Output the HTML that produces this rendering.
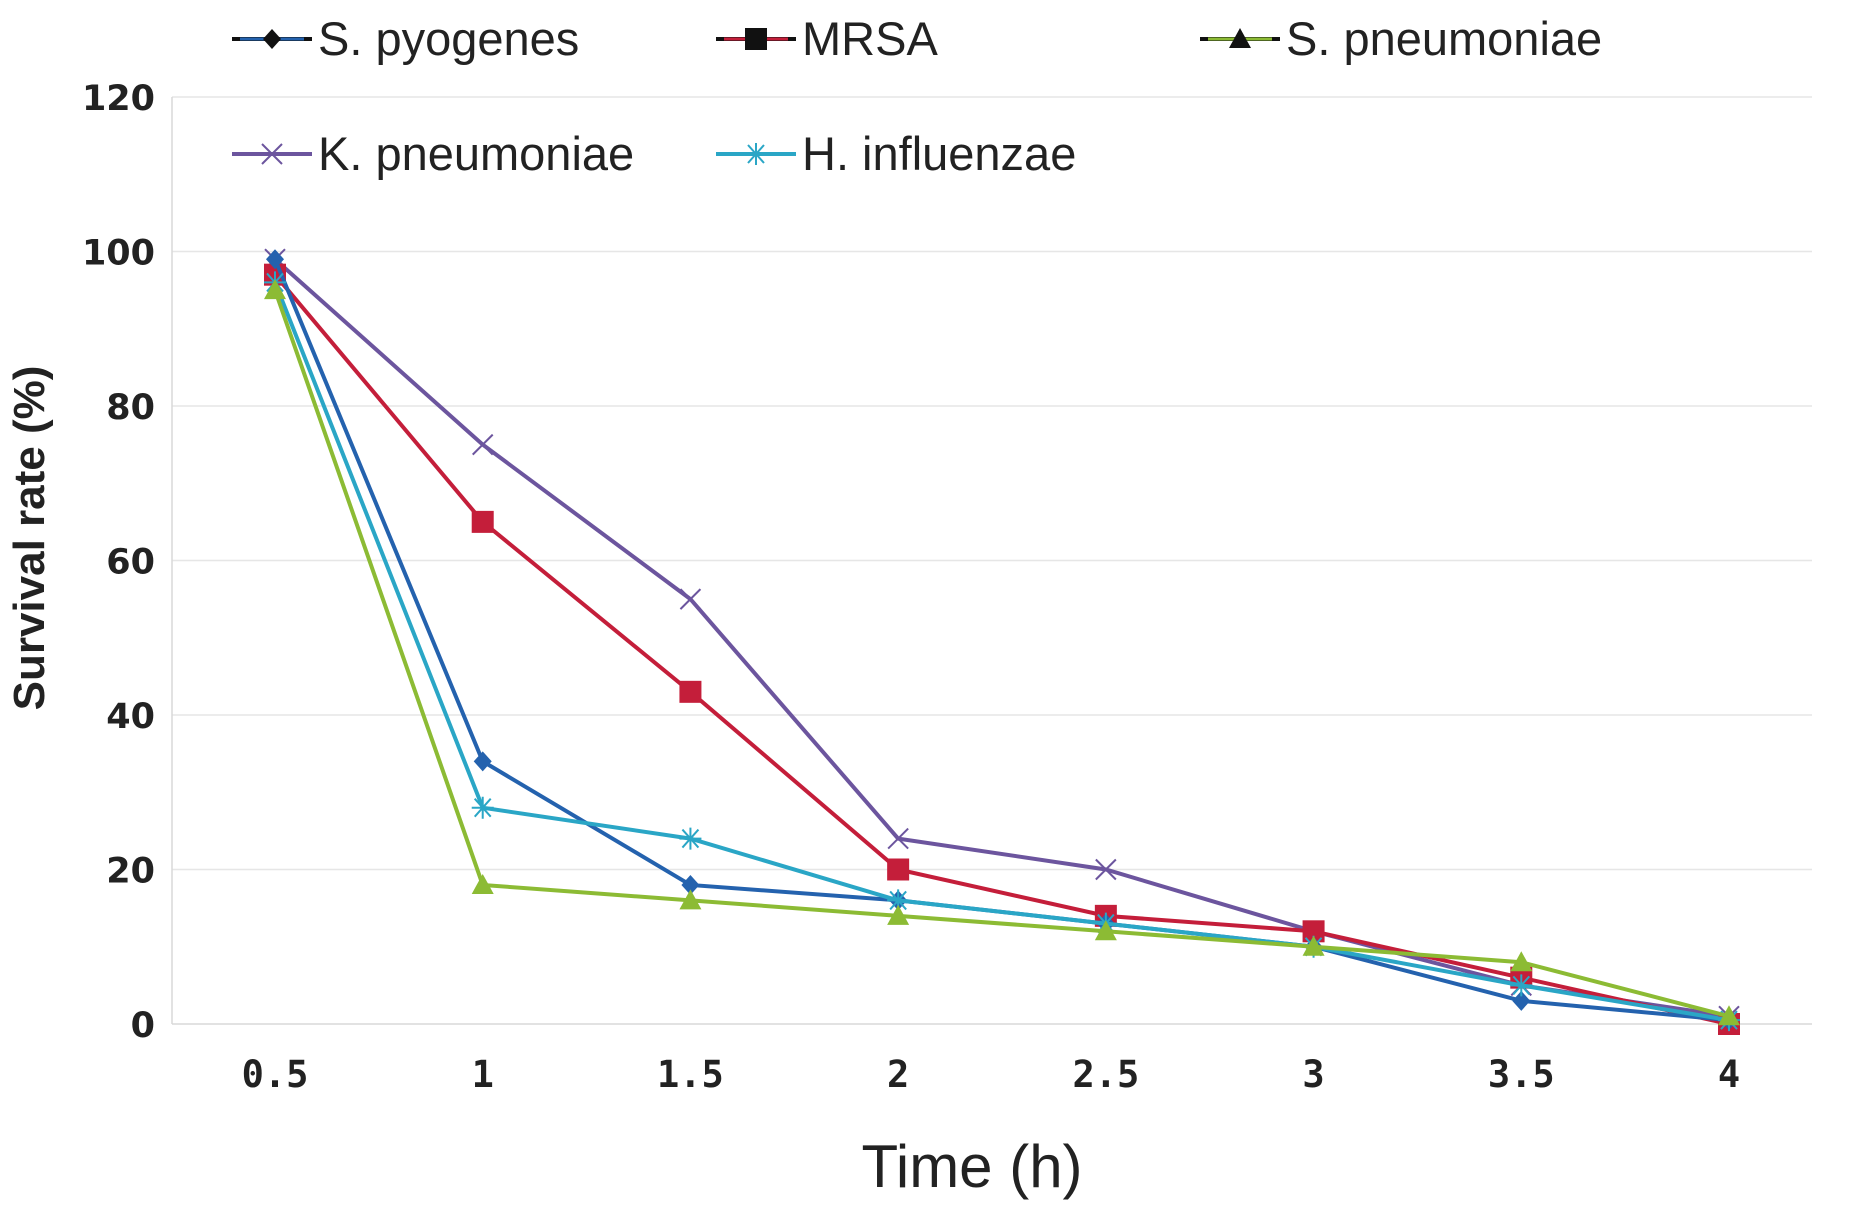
<!DOCTYPE html>
<html><head><meta charset="utf-8"><style>
body{margin:0;background:#fff;}
svg{display:block;}
</style></head><body>
<svg id="chart" width="1853" height="1206" xmlns="http://www.w3.org/2000/svg">
<g id="grid"></g><g id="axes"></g><g id="series"></g><g id="legend"></g>
<text x="972" y="1187" text-anchor="middle" font-family="Liberation Sans, sans-serif" font-size="60" fill="#222">Time (h)</text>
<text transform="translate(44,538) rotate(-90)" text-anchor="middle" font-family="Liberation Sans, sans-serif" font-weight="bold" font-size="44" fill="#222">Survival rate (%)</text>
</svg>
<script>
const categories=["0.5","1","1.5","2","2.5","3","3.5","4"];
const yTicks=[0,20,40,60,80,100,120];
const seriesNames=["S. pyogenes","MRSA","S. pneumoniae","K. pneumoniae","H. influenzae"];
const pyogenes=[99,34,18,16,13,10,3,0.5];
const mrsa=[97,65,43,20,14,12,6,0];
const pneumoniae=[95,18,16,14,12,10,8,1];
const kpneumoniae=[99,75,55,24,20,12,5,1];
const hinfluenzae=[96,28,24,16,13,10,5,0.5];
const colors=["#2462ae","#c41e3a","#8cbb34","#6c559e","#2aa6c6"];
const markers=["diamond","square","triangle","x","star"];
const NS="http://www.w3.org/2000/svg";
const X0=275,XS=(1729-275)/7,Y0=1024,YT=97;
const xs=i=>X0+i*XS, ys=v=>Y0-(v/120)*(Y0-YT);
function mk(t,a,p){const e=document.createElementNS(NS,t);for(const k in a)e.setAttribute(k,a[k]);p.appendChild(e);return e;}
const grid=document.getElementById('grid'),axes=document.getElementById('axes'),ser=document.getElementById('series'),leg=document.getElementById('legend');
yTicks.forEach(t=>{
 const l=mk('line',{x1:172,x2:1812,y1:ys(t),y2:ys(t),stroke:t===0?'#d8d8d8':'#e6e6e6','stroke-width':1.5},grid);
 
 
 const tx=mk('text',{x:155,y:ys(t)+13,'text-anchor':'end','font-family':'DejaVu Sans, sans-serif','font-weight':'bold','font-size':35,fill:'#222'},axes);
 tx.textContent=t;
 
 
});
const al=mk('line',{x1:172,x2:172,y1:YT,y2:Y0,stroke:'#d8d8d8','stroke-width':1.5},axes);


categories.forEach((c,i)=>{
 const tx=mk('text',{x:xs(i),y:1087,'text-anchor':'middle','font-family':'DejaVu Sans Mono, monospace','font-weight':'bold','font-size':37,fill:'#222'},axes);
 tx.textContent=c;
 
 
});
function marker(type,x,y,c,p){
 let e;
 if(type==='diamond')e=mk('polygon',{points:`${x},${y-10} ${x+9},${y} ${x},${y+10} ${x-9},${y}`,fill:c},p);
 else if(type==='square')e=mk('rect',{x:x-11,y:y-11,width:22,height:22,fill:c},p);
 else if(type==='triangle')e=mk('polygon',{points:`${x},${y-11} ${x+11},${y+9} ${x-11},${y+9}`,fill:c},p);
 else if(type==='x')e=mk('path',{d:`M${x-10} ${y-10}L${x+10} ${y+10}M${x+10} ${y-10}L${x-10} ${y+10}`,stroke:c,'stroke-width':2,fill:'none'},p);
 else e=mk('path',{d:`M${x-11} ${y}L${x+11} ${y}M${x-8} ${y-9}L${x+8} ${y+9}M${x+8} ${y-9}L${x-8} ${y+9}M${x} ${y-11}L${x} ${y+11}`,stroke:c,'stroke-width':2,fill:'none'},p);
 return e;
}
const all=[pyogenes,mrsa,pneumoniae,kpneumoniae,hinfluenzae];
const order=[3,1,0,4,2];
order.forEach(s=>{
 const vals=all[s],c=colors[s];
 const g=mk('g',{},ser);
 
 
 const pl=mk('polyline',{points:vals.map((v,i)=>xs(i)+','+ys(v)).join(' '),fill:'none',stroke:c,'stroke-width':4},g);
 
 
 vals.forEach((v,i)=>{
  const m=marker(markers[s],xs(i),ys(v),c,g);
  
  
 });
});
const legPos=[[232,39],[716,39],[1200,39],[232,154],[716,154]];
seriesNames.forEach((n,s)=>{
 const [x,y]=legPos[s];
 const g=mk('g',{},leg);
 
 
 mk('line',{x1:x,x2:x+80,y1:y,y2:y,stroke:s<3?'#111':colors[s],'stroke-width':4},g);
 mk('line',{x1:x+8,x2:x+72,y1:y,y2:y,stroke:colors[s],'stroke-width':3},g);
 marker(markers[s],x+40,y,s<3?'#111':colors[s],g);
 const t=mk('text',{x:x+86,y:y+16,'font-family':'Liberation Sans, sans-serif','font-size':47,fill:'#222'},g);
 t.textContent=n;
});
</script>
</body></html>
